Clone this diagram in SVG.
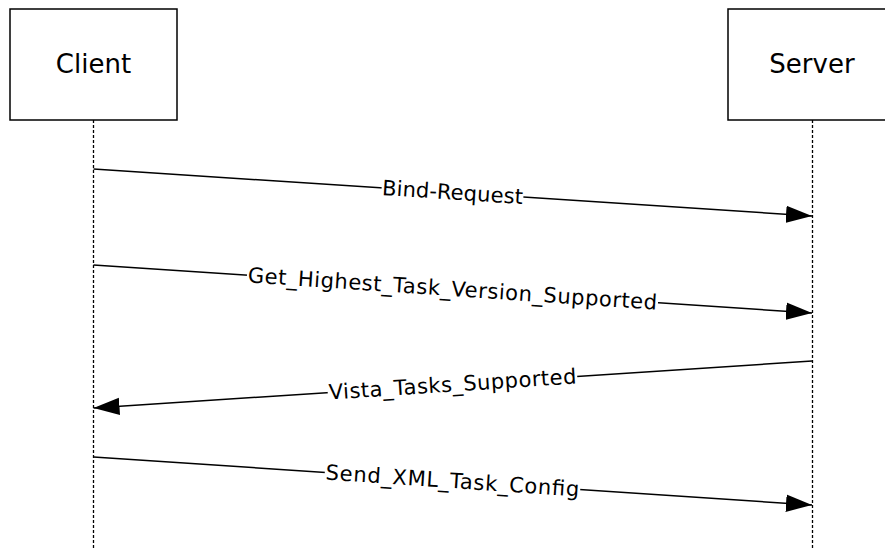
<svg xmlns="http://www.w3.org/2000/svg" width="885" height="550" viewBox="0 0 885 550">
<defs>
<style>
.box{fill:#fff;stroke:#000;stroke-width:1.5}
.life{stroke:#000;stroke-width:1.3;stroke-dasharray:3,2;fill:none}
.msg{stroke:#000;stroke-width:1.5;fill:none}
.name{font-family:"DejaVu Sans",Verdana,sans-serif;font-size:26px;fill:#000;text-anchor:middle}
.lbl{font-family:"DejaVu Sans",Verdana,sans-serif;font-size:21px;fill:#000;text-anchor:middle}
.bg{fill:#fff}
</style>
<marker id="arr" markerUnits="userSpaceOnUse" markerWidth="26" markerHeight="18" viewBox="0 0 24 16" refX="24" refY="8" orient="auto">
<path d="M0,0 L24,8 L0,16 Z" fill="#000"/>
</marker>
</defs>
<rect width="885" height="550" fill="#fff"/>
<g id="client">
<rect class="box" x="10" y="9" width="167" height="111"/>
<text class="name" x="93.5" y="73">Client</text>
</g>
<g id="server">
<rect class="box" x="728" y="9" width="170" height="111"/>
<text class="name" x="812" y="73">Server</text>
</g>
<g id="lifelines">
<line class="life" x1="93.5" y1="120" x2="93.5" y2="550"/>
<line class="life" x1="812.5" y1="120" x2="812.5" y2="550"/>
</g>
<g id="connectors">
<g id="m1">
<line class="msg" x1="93.5" y1="169" x2="812" y2="216" marker-end="url(#arr)"/>
<g transform="translate(452.5,192.5) rotate(3.74)">
<rect class="bg" x="-71" y="-9" width="142" height="18"/>
<text class="lbl" x="0" y="7" textLength="141" lengthAdjust="spacing">Bind-Request</text>
</g>
</g>
<g id="m2">
<line class="msg" x1="93.5" y1="265" x2="812" y2="313" marker-end="url(#arr)"/>
<g transform="translate(452.5,289) rotate(3.82)">
<rect class="bg" x="-206" y="-9" width="412" height="18"/>
<text class="lbl" x="0" y="7" textLength="410" lengthAdjust="spacing">Get_Highest_Task_Version_Supported</text>
</g>
</g>
<g id="m3">
<line class="msg" x1="812" y1="361" x2="93.5" y2="408" marker-end="url(#arr)"/>
<g transform="translate(452.5,384.5) rotate(-3.74)">
<rect class="bg" x="-125" y="-9" width="250" height="18"/>
<text class="lbl" x="0" y="7" textLength="248" lengthAdjust="spacing">Vista_Tasks_Supported</text>
</g>
</g>
<g id="m4">
<line class="msg" x1="93.5" y1="457" x2="812" y2="505" marker-end="url(#arr)"/>
<g transform="translate(452.5,481) rotate(3.82)">
<rect class="bg" x="-128" y="-9" width="256" height="18"/>
<text class="lbl" x="0" y="7" textLength="254" lengthAdjust="spacing">Send_XML_Task_Config</text>
</g>
</g>
</g>
</svg>
